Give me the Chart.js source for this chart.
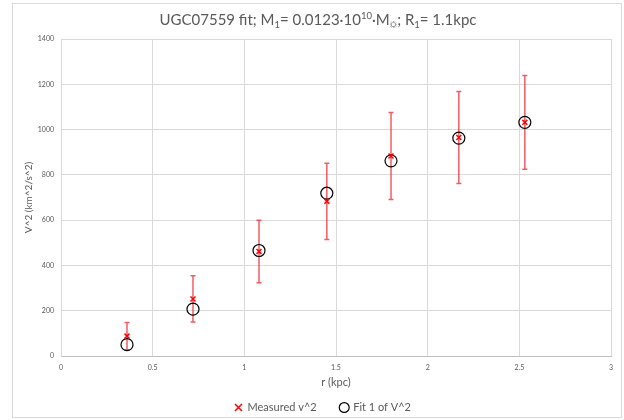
<!DOCTYPE html>
<html>
<head>
<meta charset="utf-8">
<script src="https://cdn.jsdelivr.net/npm/chart.js@4.4.0/dist/chart.umd.min.js"></script>
<style>
  body { margin: 0; background: #fff; }
  #wrap { width: 624px; height: 420px; }
</style>
</head>
<body>
<div id="wrap"><canvas id="fitChart"></canvas></div>
<script>
// values
var radius = [0.36, 0.72, 1.08, 1.45, 1.80, 2.17, 2.53];
var measuredV2 = [88, 252, 462, 683, 883, 965, 1032];
var errorV2 = [60, 102, 138, 168, 192, 203, 207];
var fitV2 = [50, 207, 466, 719, 862, 962, 1032];

var FONT = 'Lato, "Noto Sans", sans-serif';
var GREY = '#595959';

function toPoints(xs, ys) {
  return xs.map(function (x, i) { return { x: x, y: ys[i] }; });
}

// error bars for the measured series, placed through the chart scales
var errorBars = {
  id: 'errorBars',
  beforeDatasetsDraw: function (chart) {
    var ctx = chart.ctx;
    var xs = chart.scales.x, ys = chart.scales.y;
    ctx.save();
    ctx.strokeStyle = 'rgba(238, 50, 62, 0.8)';
    ctx.lineWidth = 1.5;
    radius.forEach(function (r, i) {
      var px = xs.getPixelForValue(r);
      var top = ys.getPixelForValue(measuredV2[i] + errorV2[i]);
      var bot = ys.getPixelForValue(measuredV2[i] - errorV2[i]);
      ctx.beginPath();
      ctx.moveTo(px, top); ctx.lineTo(px, bot);
      ctx.moveTo(px - 2.5, top); ctx.lineTo(px + 2.5, top);
      ctx.moveTo(px - 2.5, bot); ctx.lineTo(px + 2.5, bot);
      ctx.stroke();
    });
    ctx.restore();
  }
};

// nudge the legend so it sits under the plot like the original
var legendShift = {
  id: 'legendShift',
  afterLayout: function (chart) {
    if (chart.legend) {
      chart.legend.left += 11;
      chart.legend.right += 11;
    }
  }
};

// title with sub- and superscripts plus the outer frame
var frameAndTitle = {
  id: 'frameAndTitle',
  beforeDraw: function (chart) {
    var ctx = chart.ctx;
    ctx.save();
    ctx.fillStyle = '#fff';
    ctx.fillRect(0, 0, chart.width, chart.height);
    ctx.strokeStyle = '#D9D9D9';
    ctx.lineWidth = 1;
    ctx.strokeRect(12.5, 3.5, 609, 414);
    ctx.restore();
  },
  afterDraw: function (chart) {
    var ctx = chart.ctx;
    var parts = [
      ['UGC07559 fit; M', 0], ['1', 1], ['= 0.0123\u00b710', 0], ['10', -1],
      ['\u00b7M', 0], ['\u263c', 1], ['; R', 0], ['1', 1], ['= 1.1kpc', 0]
    ];
    var big = '15px ' + FONT, small = '9.5px ' + FONT;
    ctx.save();
    var total = 0;
    parts.forEach(function (p) {
      ctx.font = p[1] === 0 ? big : small;
      total += ctx.measureText(p[0]).width;
    });
    var x = 318 - total / 2, base = 25;
    ctx.fillStyle = GREY;
    ctx.textBaseline = 'alphabetic';
    parts.forEach(function (p) {
      ctx.font = p[1] === 0 ? big : small;
      var dy = p[1] === 1 ? 3 : (p[1] === -1 ? -6 : 0);
      ctx.fillText(p[0], x, base + dy);
      x += ctx.measureText(p[0]).width;
    });
    ctx.restore();
  }
};

new Chart(document.getElementById('fitChart'), {
  type: 'scatter',
  data: {
    datasets: [
      {
        label: 'Measured v^2',
        data: toPoints(radius, measuredV2),
        pointStyle: 'crossRot',
        pointRadius: 3.5,
        borderColor: '#FF0000',
        backgroundColor: '#FF0000',
        borderWidth: 1.5
      },
      {
        label: 'Fit 1 of V^2',
        data: toPoints(radius, fitV2),
        pointStyle: 'circle',
        pointRadius: 6,
        borderColor: '#000000',
        backgroundColor: 'rgba(0,0,0,0)',
        borderWidth: 1.2
      }
    ]
  },
  options: {
    responsive: true,
    maintainAspectRatio: false,
    animation: false,
    layout: { padding: { left: 13, right: 13, top: 39, bottom: -3 } },
    plugins: {
      title: { display: false },
      tooltip: { enabled: false },
      legend: {
        position: 'bottom',
        labels: {
          usePointStyle: true,
          boxWidth: 7,
          boxHeight: 7,
          padding: 24,
          color: GREY,
          font: { family: FONT, size: 11 }
        }
      }
    },
    scales: {
      x: {
        type: 'linear',
        min: 0,
        max: 3,
        ticks: {
          stepSize: 0.5, color: GREY, font: { family: FONT, size: 7 }, padding: 8,
          callback: function (v) { return String(v); }
        },
        grid: { color: '#D9D9D9', drawTicks: false },
        border: { color: '#BFBFBF' },
        title: { display: true, text: 'r (kpc)', color: GREY, font: { family: FONT, size: 11 }, padding: { top: 0, bottom: -11 } },
        afterFit: function (scale) { scale.height = 22; }
      },
      y: {
        min: 0,
        max: 1400,
        ticks: {
          stepSize: 200, color: GREY, font: { family: FONT, size: 7 }, padding: 7,
          callback: function (v) { return String(v); }
        },
        grid: { color: '#D9D9D9', drawTicks: false },
        border: { color: '#D9D9D9' },
        title: { display: true, text: 'V^2 (km^2/s^2)', color: GREY, font: { family: FONT, size: 10 }, padding: { top: 10, bottom: 0 } },
        afterFit: function (scale) { scale.width = 48; }
      }
    }
  },
  plugins: [errorBars, legendShift, frameAndTitle]
});
</script>
</body>
</html>
